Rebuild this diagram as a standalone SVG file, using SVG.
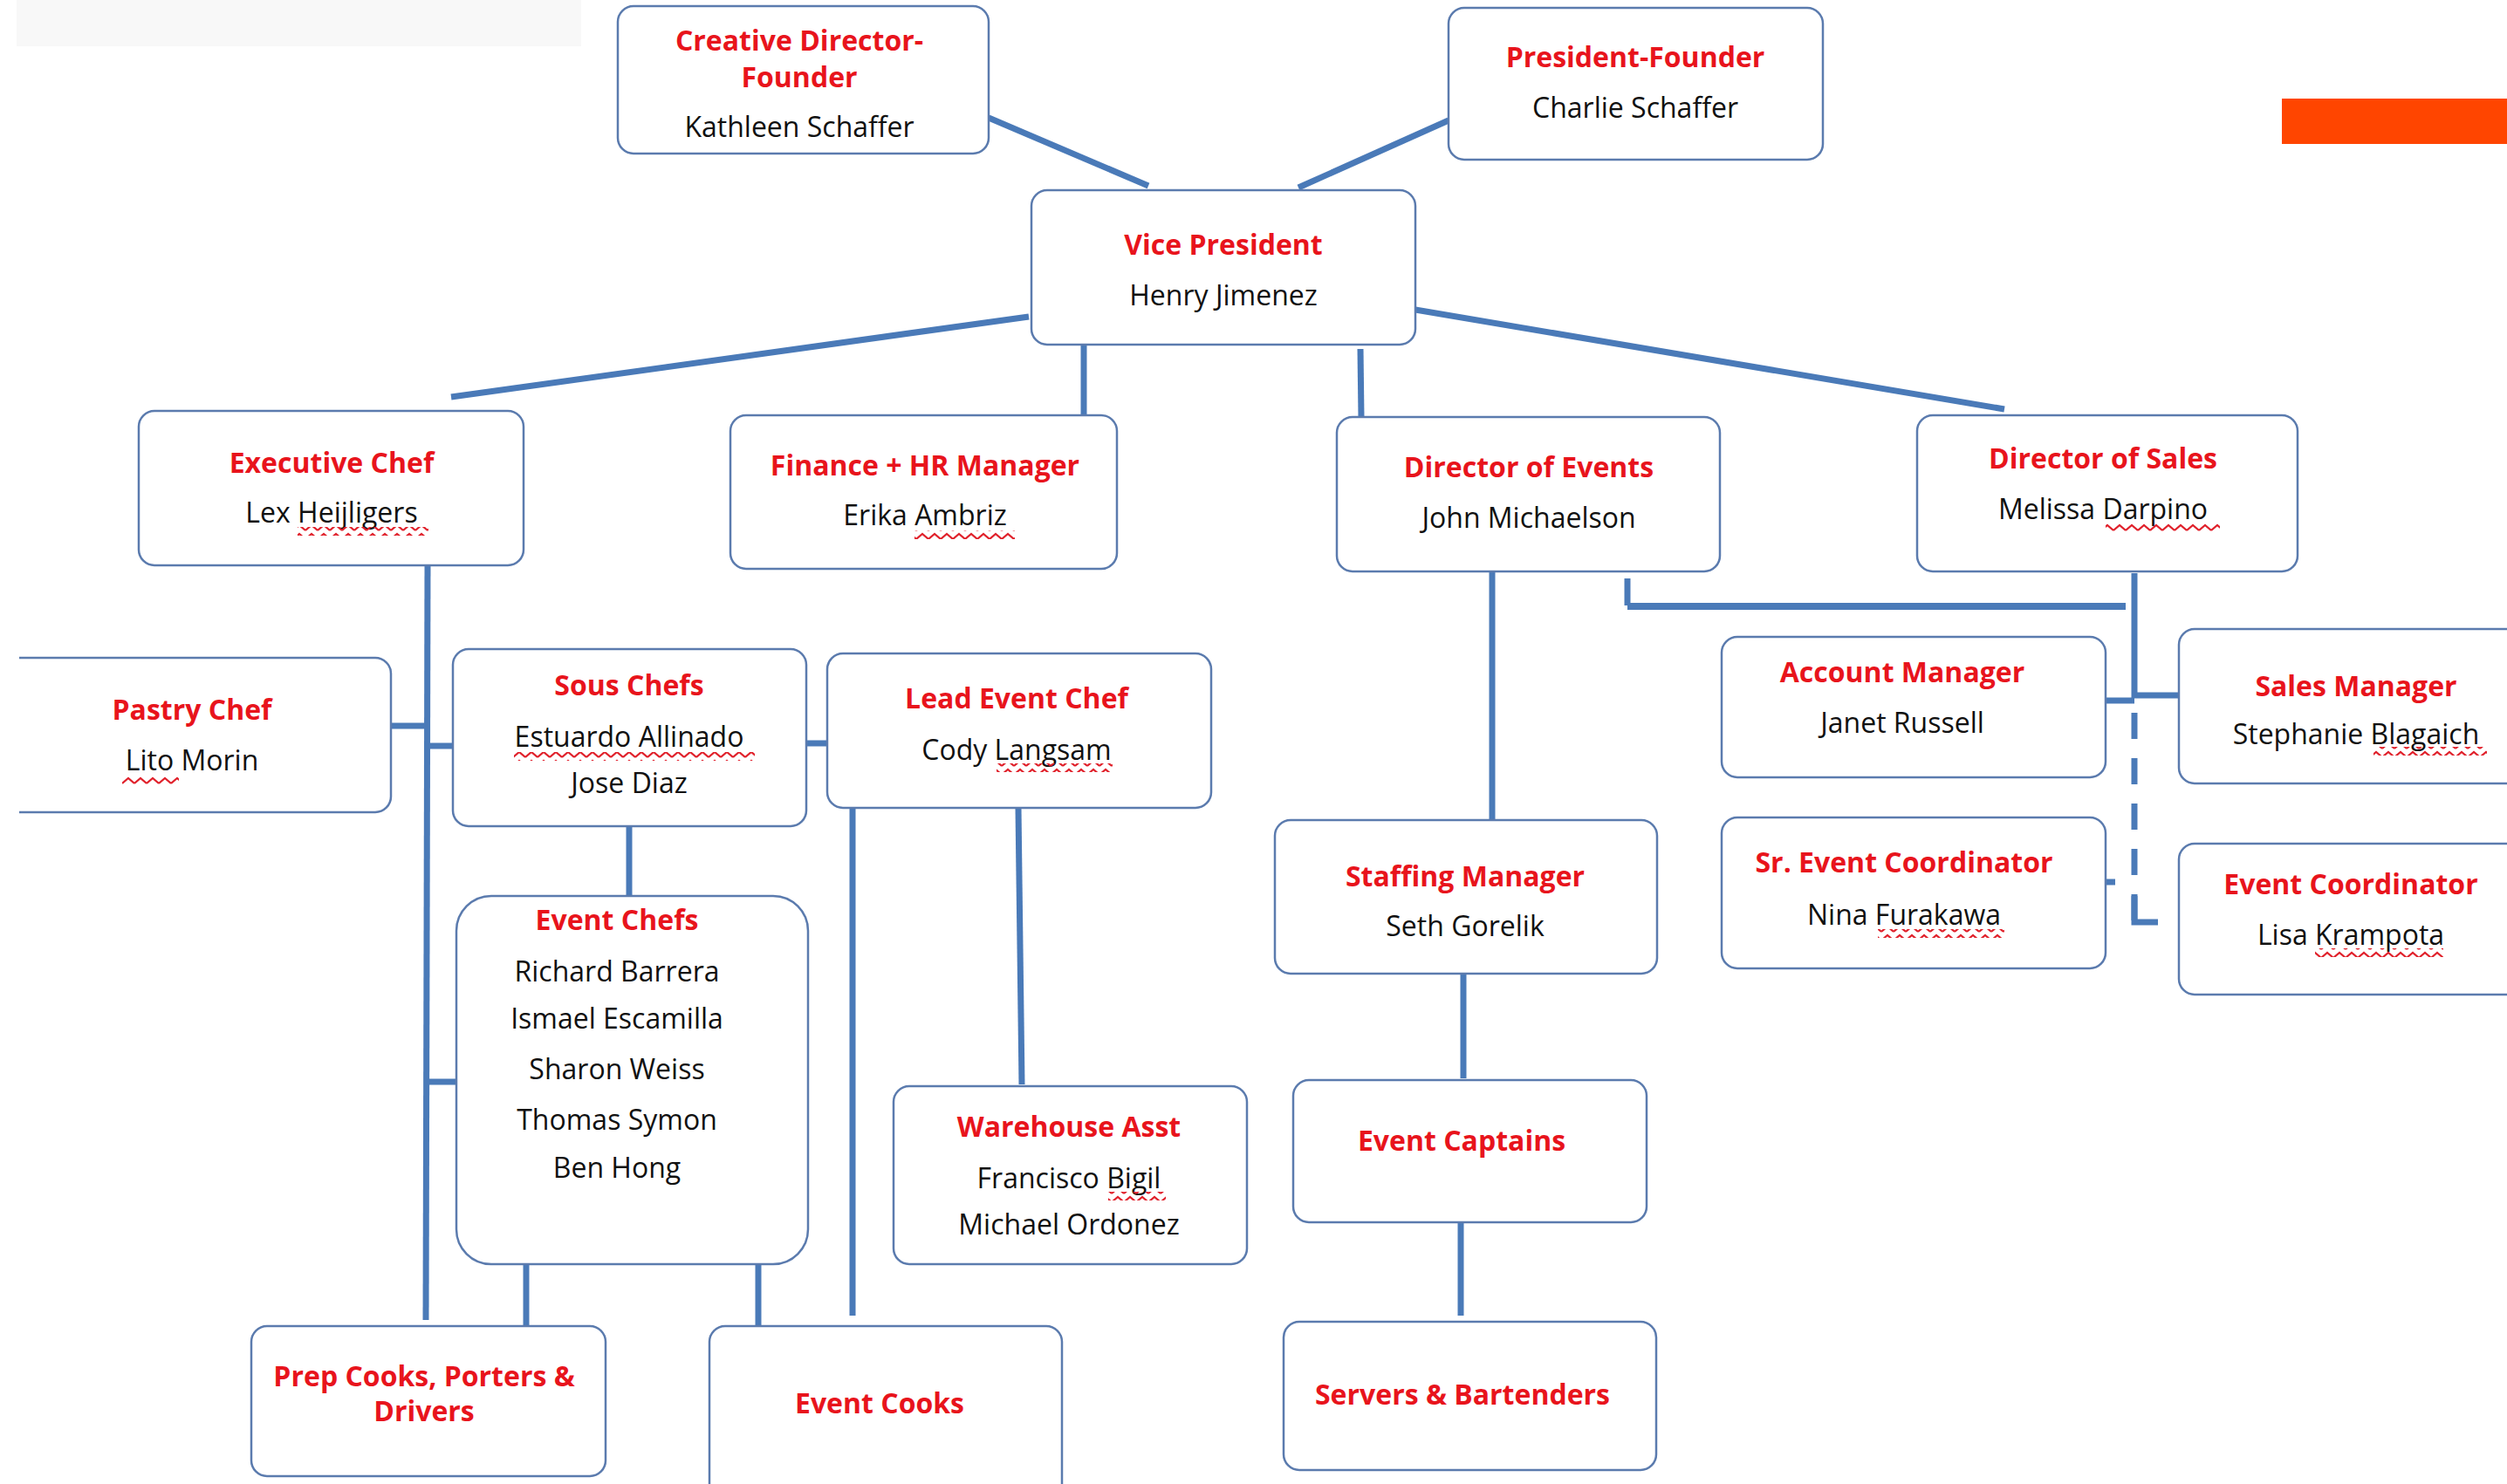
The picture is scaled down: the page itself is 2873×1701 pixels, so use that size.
<svg xmlns="http://www.w3.org/2000/svg" width="2873" height="1701" viewBox="0 0 2873 1701">
<style>
.box{fill:#fff;stroke:#5B7BAE;stroke-width:2.5}
.t{font-family:"Open Sans","Noto Sans",sans-serif;font-size:32px;font-weight:700;fill:#E8141C;text-anchor:middle}
.n{font-family:"Open Sans","Noto Sans",sans-serif;font-size:32px;font-weight:400;fill:#111;text-anchor:middle}
.c{stroke:#4A7AB8;stroke-width:7;fill:none}
</style>
<defs>
<pattern id="sq" width="14" height="10" patternUnits="userSpaceOnUse">
<path d="M0 8 L7 2 L14 8" stroke="#E0202A" stroke-width="2.2" fill="none"/>
</pattern>
</defs>
<rect x="0" y="0" width="2873" height="1701" fill="#fff"/>
<rect x="19" y="0" width="647" height="53" fill="#f8f8f8"/>
<rect x="2615" y="113" width="258" height="52" fill="#FF4500"/>

<g id="connectors">
<line class="c" x1="1133" y1="135" x2="1316" y2="213"/>
<line class="c" x1="1660" y1="138" x2="1488" y2="215"/>
<line class="c" x1="1179" y1="363" x2="517" y2="455"/>
<line class="c" x1="1242" y1="395" x2="1242" y2="476"/>
<line class="c" x1="1559" y1="400" x2="1560" y2="479"/>
<line class="c" x1="1622" y1="355" x2="2297" y2="469"/>
<line class="c" x1="490" y1="648" x2="488" y2="1513"/>
<line class="c" x1="446" y1="832" x2="490" y2="832"/>
<line class="c" x1="490" y1="855" x2="519" y2="855"/>
<line class="c" x1="490" y1="1240" x2="523" y2="1240"/>
<line class="c" x1="721" y1="947" x2="721" y2="1027"/>
<line class="c" x1="603" y1="1449" x2="603" y2="1519"/>
<line class="c" x1="869" y1="1443" x2="869" y2="1519"/>
<line class="c" x1="924" y1="852" x2="948" y2="852"/>
<line class="c" x1="977" y1="926" x2="977" y2="1508"/>
<line class="c" x1="1167" y1="926" x2="1171" y2="1243"/>
<line class="c" x1="1710" y1="655" x2="1710" y2="940"/>
<line class="c" x1="1677" y1="1116" x2="1677" y2="1236"/>
<line class="c" x1="1674" y1="1401" x2="1674" y2="1508"/>
<line class="c" x1="1865" y1="663" x2="1865" y2="694"/>
<line class="c" x1="1865" y1="695" x2="2436" y2="695" style="stroke-width:8"/>
<line class="c" x1="2446" y1="657" x2="2446" y2="800"/>
<line class="c" x1="2446" y1="817" x2="2446" y2="1057" style="stroke-dasharray:30 22"/>
<polyline class="c" points="2446,1027 2446,1057 2473,1057"/>
<line class="c" x1="2413" y1="803" x2="2446" y2="803"/>
<line class="c" x1="2446" y1="797" x2="2505" y2="797"/>
<line class="c" x1="2413" y1="1011" x2="2424" y2="1011"/>
</g>

<g id="creative-director">
<rect class="box" x="708" y="7" width="425" height="169" rx="18"/>
<text class="t" x="916" y="58">Creative Director-</text>
<text class="t" x="916" y="100">Founder</text>
<text class="n" x="916" y="157">Kathleen Schaffer</text>
</g>
<g id="president-founder">
<rect class="box" x="1660" y="9" width="429" height="174" rx="18"/>
<text class="t" x="1874" y="77">President-Founder</text>
<text class="n" x="1874" y="135">Charlie Schaffer</text>
</g>
<g id="vice-president">
<rect class="box" x="1182" y="218" width="440" height="177" rx="18"/>
<text class="t" x="1402" y="292">Vice President</text>
<text class="n" x="1402" y="350">Henry Jimenez</text>
</g>
<g id="executive-chef">
<rect class="box" x="159" y="471" width="441" height="177" rx="18"/>
<text class="t" x="380" y="542">Executive Chef</text>
<text class="n" x="380" y="599">Lex Heijligers</text>
<rect x="341" y="604" width="150" height="10" fill="url(#sq)"/>
</g>
<g id="finance-hr">
<rect class="box" x="837" y="476" width="443" height="176" rx="18"/>
<text class="t" x="1060" y="545">Finance + HR Manager</text>
<text class="n" x="1060" y="602">Erika Ambriz</text>
<rect x="1048" y="608" width="115" height="10" fill="url(#sq)"/>
</g>
<g id="director-events">
<rect class="box" x="1532" y="478" width="439" height="177" rx="18"/>
<text class="t" x="1752" y="547">Director of Events</text>
<text class="n" x="1752" y="605">John Michaelson</text>
</g>
<g id="director-sales">
<rect class="box" x="2197" y="476" width="436" height="179" rx="18"/>
<text class="t" x="2410" y="537">Director of Sales</text>
<text class="n" x="2410" y="595">Melissa Darpino</text>
<rect x="2413" y="599" width="131" height="10" fill="url(#sq)"/>
</g>
<g id="account-manager">
<rect class="box" x="1973" y="730" width="440" height="161" rx="18"/>
<text class="t" x="2180" y="782">Account Manager</text>
<text class="n" x="2180" y="840">Janet Russell</text>
</g>
<g id="sales-manager">
<rect class="box" x="2497" y="721" width="420" height="177" rx="18"/>
<text class="t" x="2700" y="798">Sales Manager</text>
<text class="n" x="2700" y="853">Stephanie Blagaich</text>
<rect x="2720" y="856" width="130" height="10" fill="url(#sq)"/>
</g>
<g id="sr-event-coordinator">
<rect class="box" x="1973" y="937" width="440" height="173" rx="18"/>
<text class="t" x="2182" y="1000">Sr. Event Coordinator</text>
<text class="n" x="2182" y="1060">Nina Furakawa</text>
<rect x="2152" y="1065" width="145" height="10" fill="url(#sq)"/>
</g>
<g id="event-coordinator">
<rect class="box" x="2497" y="967" width="420" height="173" rx="18"/>
<text class="t" x="2694" y="1025">Event Coordinator</text>
<text class="n" x="2694" y="1083">Lisa Krampota</text>
<rect x="2653" y="1087" width="147" height="10" fill="url(#sq)"/>
</g>
<g id="staffing-manager">
<rect class="box" x="1461" y="940" width="438" height="176" rx="18"/>
<text class="t" x="1679" y="1016">Staffing Manager</text>
<text class="n" x="1679" y="1073">Seth Gorelik</text>
</g>
<g id="event-captains">
<rect class="box" x="1482" y="1238" width="405" height="163" rx="18"/>
<text class="t" x="1675" y="1319">Event Captains</text>
</g>
<g id="servers-bartenders">
<rect class="box" x="1471" y="1515" width="427" height="170" rx="18"/>
<text class="t" x="1676" y="1610">Servers &amp; Bartenders</text>
</g>
<g id="lead-event-chef">
<rect class="box" x="948" y="749" width="440" height="177" rx="18"/>
<text class="t" x="1165" y="812">Lead Event Chef</text>
<text class="n" x="1165" y="871">Cody Langsam</text>
<rect x="1142" y="875" width="133" height="10" fill="url(#sq)"/>
</g>
<g id="warehouse-asst">
<rect class="box" x="1024" y="1245" width="405" height="204" rx="18"/>
<text class="t" x="1225" y="1303">Warehouse Asst</text>
<text class="n" x="1225" y="1362">Francisco Bigil</text>
<text class="n" x="1225" y="1415">Michael Ordonez</text>
<rect x="1270" y="1366" width="66" height="10" fill="url(#sq)"/>
</g>
<g id="event-cooks">
<rect class="box" x="813" y="1520" width="404" height="220" rx="18"/>
<text class="t" x="1008" y="1620">Event Cooks</text>
</g>
<g id="prep-cooks">
<rect class="box" x="288" y="1520" width="406" height="172" rx="18"/>
<text class="t" x="486" y="1589">Prep Cooks, Porters &amp;</text>
<text class="t" x="486" y="1629">Drivers</text>
</g>
<g id="event-chefs">
<rect class="box" x="523" y="1027" width="403" height="422" rx="40"/>
<text class="t" x="707" y="1066">Event Chefs</text>
<text class="n" x="707" y="1125">Richard Barrera</text>
<text class="n" x="707" y="1179">Ismael Escamilla</text>
<text class="n" x="707" y="1237">Sharon Weiss</text>
<text class="n" x="707" y="1295">Thomas Symon</text>
<text class="n" x="707" y="1350">Ben Hong</text>
</g>
<g id="sous-chefs">
<rect class="box" x="519" y="744" width="405" height="203" rx="18"/>
<text class="t" x="721" y="797">Sous Chefs</text>
<text class="n" x="721" y="856">Estuardo Allinado</text>
<text class="n" x="721" y="909">Jose Diaz</text>
<rect x="589" y="862" width="276" height="10" fill="url(#sq)"/>
</g>
<g id="pastry-chef">
<path class="box" d="M22 754 H430 A18 18 0 0 1 448 772 V913 A18 18 0 0 1 430 931 H22"/>
<text class="t" x="220" y="825">Pastry Chef</text>
<text class="n" x="220" y="883">Lito Morin</text>
<rect x="140" y="889" width="65" height="10" fill="url(#sq)"/>
</g>
</svg>
